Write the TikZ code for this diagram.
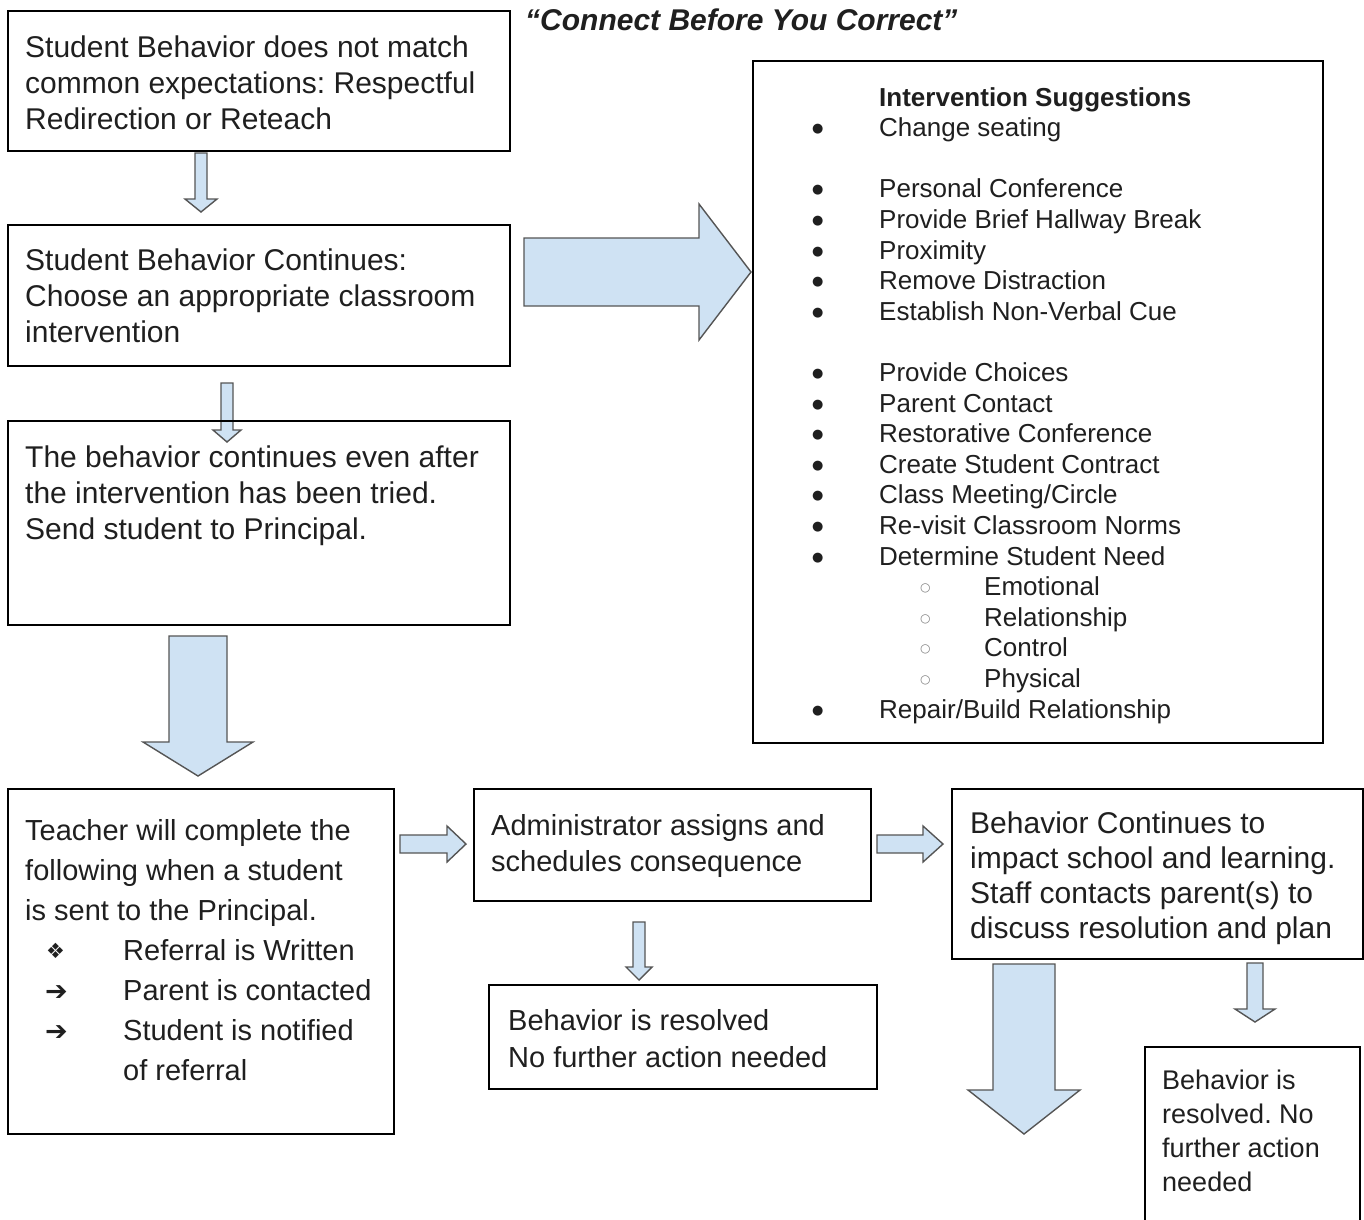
\documentclass[tikz,border=0pt]{standalone}
\usepackage{fontspec}
\setmainfont{Liberation Sans}
\newfontfamily\symfont{DejaVu Sans}
\usetikzlibrary{positioning}
\definecolor{arrowfill}{HTML}{CFE2F3}
\definecolor{arrowline}{HTML}{555555}
\tikzset{
    box/.style={draw=black, line width=1.5pt, inner sep=0pt, anchor=north west},
    txt/.style={align=left, inner sep=0pt, text=black!88},
    blockarrow/.style={draw=arrowline, fill=arrowfill, line width=1.4pt},
}
\newcommand{\downblock}[6]{%
    \draw[blockarrow] ({#1-#4},#2) -- ({#1+#4},#2) -- ({#1+#4},{#3-#6}) -- ({#1+#5},{#3-#6})
        -- (#1,#3) -- ({#1-#5},{#3-#6}) -- ({#1-#4},{#3-#6}) -- cycle;}
\newcommand{\rightblock}[6]{%
    \draw[blockarrow] (#2,{#1-#4}) -- ({#3-#6},{#1-#4}) -- ({#3-#6},{#1-#5}) -- (#3,#1)
        -- ({#3-#6},{#1+#5}) -- ({#3-#6},{#1+#4}) -- (#2,{#1+#4}) -- cycle;}
\newcommand{\bul}{\makebox[66pt][l]{\hspace*{-1pt}\raisebox{4pt}{\symfont\fontsize{13}{13}\selectfont ●}}}
\newcommand{\subbul}{\hspace*{107pt}\makebox[64pt][l]{\raisebox{4pt}{\textcolor{gray}{\symfont\fontsize{12}{12}\selectfont ○}}}}
\newcommand{\dia}{\hspace*{21pt}\makebox[77pt][l]{\raisebox{2pt}{\symfont\fontsize{21}{21}\selectfont ❖}}}
\newcommand{\arr}{\hspace*{20pt}\makebox[78pt][l]{\symfont\fontsize{27}{27}\selectfont ➔}}
\begin{document}
\frenchspacing
\begin{tikzpicture}[x=1pt,y=-1pt]
    \useasboundingbox (0,0) rectangle (1364,1219);
    \clip (0,0) rectangle (1364,1219);
    %draw block arrows
    \downblock{201}{153}{212}{6}{16}{13}
    \downblock{227}{383}{442}{6}{14}{12}
    \downblock{198}{636}{776}{29}{55}{34}
    \rightblock{272}{524}{751}{34}{68}{52}
    \rightblock{844}{400}{466}{9}{18}{19}
    \rightblock{844}{877}{943}{9}{18}{20}
    \downblock{639}{922}{980}{6}{13}{13}
    \downblock{1024}{964}{1134}{31}{56}{44}
    \downblock{1255}{963}{1022}{8}{20}{13}
    %title
    \node[txt, anchor=north west, font=\bfseries\itshape\fontsize{30}{36}\selectfont] (title) at (525,9)
        {“Connect Before You Correct”};
    %left column
    \node[box, minimum width=502pt, minimum height=140pt] (start) at (7,10) {};
    \node[txt, font=\fontsize{30}{36}\selectfont, below right=26pt and 18pt of start.north west] (starttxt)
        {Student Behavior does not match\\common expectations: Respectful\\Redirection or Reteach};
    \node[box, minimum width=502pt, minimum height=141pt] (cont) at (7,224) {};
    \node[txt, font=\fontsize{30}{36}\selectfont, below right=25pt and 18pt of cont.north west] (conttxt)
        {Student Behavior Continues:\\Choose an appropriate classroom\\intervention};
    \node[box, minimum width=502pt, minimum height=204pt] (send) at (7,420) {};
    \node[txt, font=\fontsize{30}{36}\selectfont, below right=26pt and 18pt of send.north west] (sendtxt)
        {The behavior continues even after\\the intervention has been tried.\\Send student to Principal.};
    %suggestions
    \node[box, minimum width=570pt, minimum height=682pt] (ideas) at (752,60) {};
    \node[txt, font=\fontsize{26}{30.6}\selectfont, below right=27pt and 61pt of ideas.north west] (ideastxt)
        {\hspace*{66pt}\textbf{Intervention Suggestions}\\
         \bul Change seating\\[30.6pt]
         \bul Personal Conference\\
         \bul Provide Brief Hallway Break\\
         \bul Proximity\\
         \bul Remove Distraction\\
         \bul Establish Non-Verbal Cue\\[30.6pt]
         \bul Provide Choices\\
         \bul Parent Contact\\
         \bul Restorative Conference\\
         \bul Create Student Contract\\
         \bul Class Meeting/Circle\\
         \bul Re-visit Classroom Norms\\
         \bul Determine Student Need\\
         \subbul Emotional\\
         \subbul Relationship\\
         \subbul Control\\
         \subbul Physical\\
         \bul Repair/Build Relationship};
    %bottom row
    \node[box, minimum width=386pt, minimum height=345pt] (teacher) at (7,788) {};
    \node[txt, font=\fontsize{29}{40}\selectfont, below right=31pt and 18pt of teacher.north west] (teachertxt)
        {Teacher will complete the\\following when a student\\is sent to the Principal.\\
         \dia Referral is Written\\
         \arr Parent is contacted\\
         \arr Student is notified\\
         \hspace*{98pt}of referral};
    \node[box, minimum width=397pt, minimum height=112pt] (admin) at (473,788) {};
    \node[txt, font=\fontsize{29}{36}\selectfont, below right=26pt and 18pt of admin.north west] (admintxt)
        {Administrator assigns and\\schedules consequence};
    \node[box, minimum width=388pt, minimum height=104pt] (resolved) at (488,984) {};
    \node[txt, font=\fontsize{29}{37}\selectfont, below right=25pt and 20pt of resolved.north west] (resolvedtxt)
        {Behavior is resolved\\No further action needed};
    \node[box, minimum width=411pt, minimum height=170pt] (parent) at (951,788) {};
    \node[txt, font=\fontsize{30}{35}\selectfont, below right=24pt and 19pt of parent.north west] (parenttxt)
        {Behavior Continues to\\impact school and learning.\\Staff contacts parent(s) to\\discuss resolution and plan};
    \node[box, minimum width=215pt, minimum height=220pt] (done) at (1144,1046) {};
    \node[txt, font=\fontsize{27}{34}\selectfont, below right=24pt and 18pt of done.north west] (donetxt)
        {Behavior is\\resolved. No\\further action\\needed};
\end{tikzpicture}
\end{document}
